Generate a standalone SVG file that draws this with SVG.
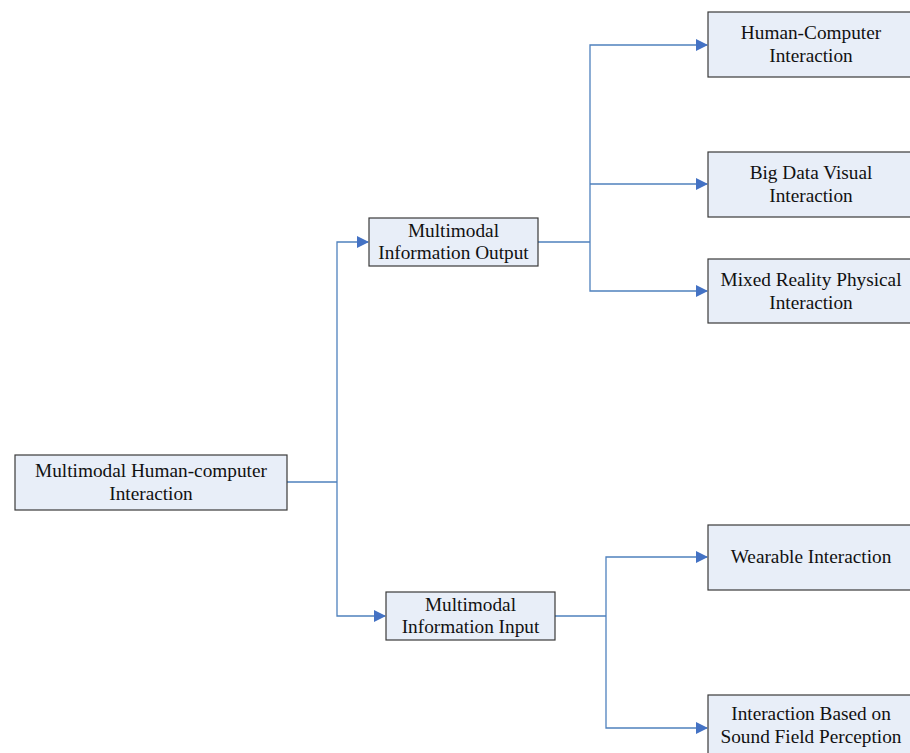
<svg xmlns="http://www.w3.org/2000/svg" width="910" height="753" viewBox="0 0 910 753">
<style>
.box{fill:#e8eef8;stroke:#3a3a3a;stroke-width:1.2}
.t{font-family:"Liberation Serif","Times New Roman",serif;font-size:19.3px;fill:#111;text-anchor:middle}
.c{fill:none;stroke:#4f81bd;stroke-width:1.3}
</style>
<defs>
<marker id="ah" markerUnits="userSpaceOnUse" markerWidth="12" markerHeight="12" refX="11" refY="6" orient="auto">
<path d="M0,0 L12,6 L0,12 z" fill="#4472c4"/>
</marker>
</defs>
<rect width="910" height="753" fill="#fff"/>
<g id="connectors">
<path class="c" d="M287,482 H337 M337,482 V242 H368" marker-end="url(#ah)"/>
<path class="c" d="M337,482 V616 H385" marker-end="url(#ah)"/>
<path class="c" d="M538,242 H590 M590,242 V45 H707" marker-end="url(#ah)"/>
<path class="c" d="M590,184 H707" marker-end="url(#ah)"/>
<path class="c" d="M590,242 V291 H707" marker-end="url(#ah)"/>
<path class="c" d="M555,616 H606 M606,616 V557 H707" marker-end="url(#ah)"/>
<path class="c" d="M606,616 V728 H707" marker-end="url(#ah)"/>
</g>
<g id="root">
<rect class="box" x="15" y="455" width="272" height="55"/>
<text class="t" x="151" y="477">Multimodal Human-computer</text>
<text class="t" x="151" y="500">Interaction</text>
</g>
<g id="output">
<rect class="box" x="369" y="218" width="169" height="48"/>
<text class="t" x="453.5" y="237">Multimodal</text>
<text class="t" x="453.5" y="259">Information Output</text>
</g>
<g id="input">
<rect class="box" x="386" y="592" width="169" height="48"/>
<text class="t" x="470.5" y="611">Multimodal</text>
<text class="t" x="470.5" y="633">Information Input</text>
</g>
<g id="hci">
<rect class="box" x="708" y="12" width="206" height="65"/>
<text class="t" x="811" y="39">Human-Computer</text>
<text class="t" x="811" y="62">Interaction</text>
</g>
<g id="bigdata">
<rect class="box" x="708" y="152" width="206" height="65"/>
<text class="t" x="811" y="179">Big Data Visual</text>
<text class="t" x="811" y="202">Interaction</text>
</g>
<g id="mixed">
<rect class="box" x="708" y="259" width="206" height="64"/>
<text class="t" x="811" y="286">Mixed Reality Physical</text>
<text class="t" x="811" y="309">Interaction</text>
</g>
<g id="wearable">
<rect class="box" x="708" y="525" width="206" height="65"/>
<text class="t" x="811" y="563">Wearable Interaction</text>
</g>
<g id="sound">
<rect class="box" x="708" y="695" width="206" height="70"/>
<text class="t" x="811" y="720">Interaction Based on</text>
<text class="t" x="811" y="743">Sound Field Perception</text>
</g>
</svg>
